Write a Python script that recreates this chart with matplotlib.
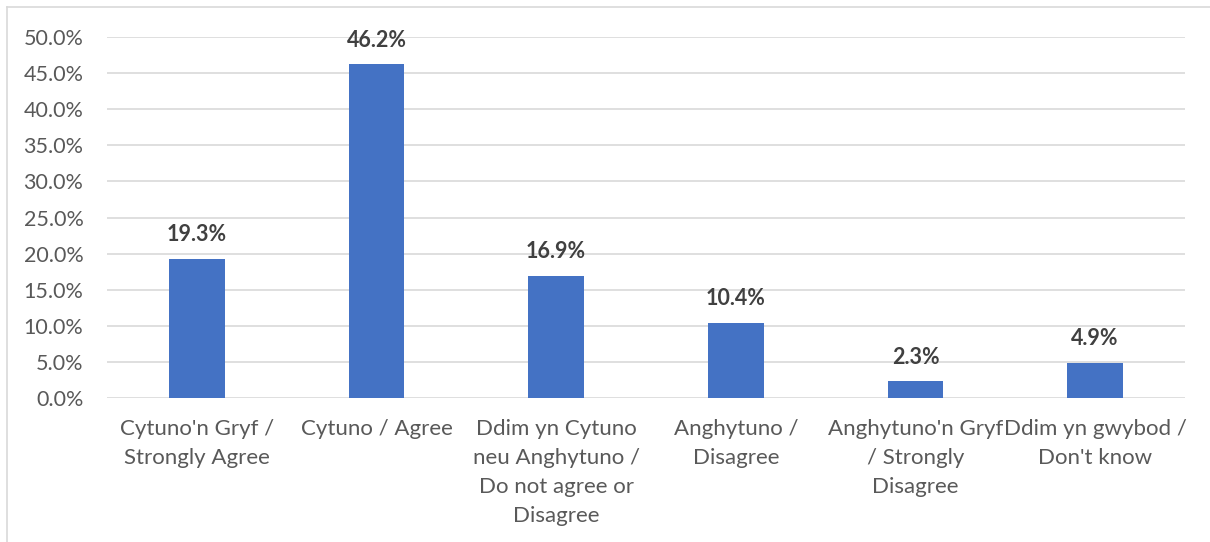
import matplotlib.pyplot as plt
import numpy as np
from matplotlib.lines import Line2D

categories = ["Cytuno'n Gryf /\nStrongly Agree",
              "Cytuno / Agree",
              "Ddim yn Cytuno\nneu Anghytuno /\nDo not agree or\nDisagree",
              "Anghytuno /\nDisagree",
              "Anghytuno'n Gryf\n/ Strongly\nDisagree",
              "Ddim yn gwybod /\nDon't know"]
values = [19.3, 46.2, 16.9, 10.4, 2.3, 4.9]
yticks = [0, 5, 10, 15, 20, 25, 30, 35, 40, 45, 50]

plt.rcParams['font.family'] = ['Lato', 'DejaVu Sans']
fig = plt.figure(figsize=(12.1, 5.42), dpi=100)
ax = fig.add_axes([107/1210, 1-398/542, (1185-107)/1210, (398-37)/542])

x = np.arange(len(values))
ax.bar(x, values, width=0.31, color='#4472C4', zorder=3)
for xi, v in zip(x, values):
    ax.text(xi, v + 1.9, '%.1f%%' % v, ha='center', va='bottom',
            fontsize=15.5, fontweight='bold', color='#404040')

ax.set_xlim(-0.5, len(values) - 0.5)
ax.set_ylim(0, 50)
ax.set_yticks(yticks)
ax.set_yticklabels(['%.1f%%' % t for t in yticks], fontsize=15.5)
ax.set_xticks(x)
ax.set_xticklabels(categories, linespacing=1.56, fontsize=16)
ax.tick_params(axis='both', length=0, colors='#595959')
ax.tick_params(axis='y', pad=17)
ax.tick_params(axis='x', pad=15)
ax.grid(axis='y', color='#D9D9D9', linewidth=1.2, zorder=0)
for s in ax.spines.values():
    s.set_visible(False)

# chart border
fig.add_artist(Line2D([7/1210, 7/1210], [0, 1-7/542], color='#D9D9D9', lw=1.2))
fig.add_artist(Line2D([7/1210, 1], [1-7/542, 1-7/542], color='#D9D9D9', lw=1.2))

fig.savefig('out.png', dpi=100)
